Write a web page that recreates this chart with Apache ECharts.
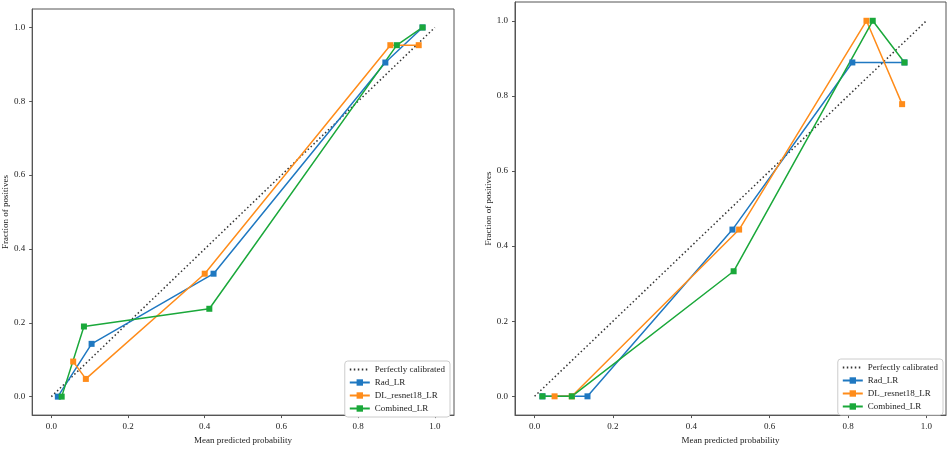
<!DOCTYPE html>
<html>
<head>
<meta charset="utf-8">
<script src="https://cdn.jsdelivr.net/npm/echarts@6/dist/echarts.min.js"></script>
<style>
  html, body { margin: 0; padding: 0; background: #fff; }
  #chart-container { width: 948px; height: 450px; }
</style>
</head>
<body>
<div id="chart-container"></div>
<script>
// 数据：左图 与 右图 的校准曲线
var ticks = [0.0, 0.2, 0.4, 0.6, 0.8, 1.0];
var diagonal = [[0, 0], [1, 1]];

var leftRad = [[0.017, 0.0], [0.105, 0.143], [0.423, 0.333], [0.871, 0.905], [0.968, 1.0]];
var leftDL = [[0.057, 0.095], [0.090, 0.048], [0.400, 0.333], [0.884, 0.952], [0.958, 0.952]];
var leftComb = [[0.027, 0.0], [0.085, 0.190], [0.412, 0.238], [0.901, 0.952], [0.968, 1.0]];

var rightRad = [[0.020, 0.0], [0.135, 0.0], [0.505, 0.444], [0.811, 0.889], [0.944, 0.889]];
var rightDL = [[0.051, 0.0], [0.095, 0.0], [0.522, 0.444], [0.847, 1.0], [0.938, 0.778]];
var rightComb = [[0.020, 0.0], [0.095, 0.0], [0.508, 0.333], [0.863, 1.0], [0.944, 0.889]];

var names = ['Perfectly calibrated', 'Rad_LR', 'DL_resnet18_LR', 'Combined_LR'];
var colors = ['#1f78c1', '#ff8c1a', '#1aa83a'];

var font = 'Liberation Serif';
var container = document.getElementById('chart-container');
var myChart = echarts.init(container);

function makeAxis(idx, name, nameGap) {
  return {
    type: 'value',
    gridIndex: idx,
    min: -0.05,
    max: 1.05,
    name: name,
    nameLocation: 'middle',
    nameGap: nameGap,
    nameTextStyle: { fontFamily: font, fontSize: 9, color: '#222' },
    axisLine: { show: true, onZero: false, lineStyle: { color: '#555', width: 1 } },
    axisTick: { show: true, inside: false, length: 3, customValues: ticks, lineStyle: { color: '#555' } },
    axisLabel: {
      fontFamily: font, fontSize: 9, color: '#222', margin: 7,
      customValues: ticks,
      formatter: function (v) { return v.toFixed(1); }
    },
    splitLine: { show: false }
  };
}

function lineSeries(name, data, color, idx) {
  return {
    name: name, type: 'line', xAxisIndex: idx, yAxisIndex: idx,
    data: data, symbol: 'rect', symbolSize: 6,
    lineStyle: { color: color, width: 1.5 },
    itemStyle: { color: color },
    animation: false
  };
}

function diagSeries(idx) {
  return {
    name: names[0], type: 'line', xAxisIndex: idx, yAxisIndex: idx,
    data: diagonal, symbol: 'none',
    lineStyle: { color: '#333', width: 1.5, type: [1.5, 2.5] },
    itemStyle: { color: '#333' },
    animation: false
  };
}

function makeLegend(right, bottom) {
  return {
    data: [
      { name: names[0], itemStyle: { opacity: 0 } },
      names[1], names[2], names[3]
    ],
    orient: 'vertical',
    right: right,
    bottom: bottom,
    itemWidth: 20,
    itemHeight: 8,
    itemGap: 4,
    padding: [4, 5, 4, 4],
    backgroundColor: '#fff',
    borderColor: '#ccc',
    borderWidth: 1,
    borderRadius: 3,
    textStyle: { fontFamily: font, fontSize: 9, color: '#222' }
  };
}

myChart.setOption({
  animation: false,
  grid: [
    { left: 30, right: 494, top: 9, bottom: 27, show: true, borderColor: '#555', borderWidth: 1 },
    { left: 515, right: 2, top: 2, bottom: 29, show: true, borderColor: '#555', borderWidth: 1 }
  ],
  xAxis: [
    makeAxis(0, 'Mean predicted probability', 16),
    makeAxis(1, 'Mean predicted probability', 16)
  ],
  yAxis: [
    makeAxis(0, 'Fraction of positives', 22),
    makeAxis(1, 'Fraction of positives', 22)
  ],
  legend: [makeLegend(498, 33), makeLegend(5, 35)],
  series: [
    diagSeries(0),
    lineSeries(names[1], leftRad, colors[0], 0),
    lineSeries(names[2], leftDL, colors[1], 0),
    lineSeries(names[3], leftComb, colors[2], 0),
    diagSeries(1),
    lineSeries(names[1], rightRad, colors[0], 1),
    lineSeries(names[2], rightDL, colors[1], 1),
    lineSeries(names[3], rightComb, colors[2], 1)
  ]
});
</script>
</body>
</html>
